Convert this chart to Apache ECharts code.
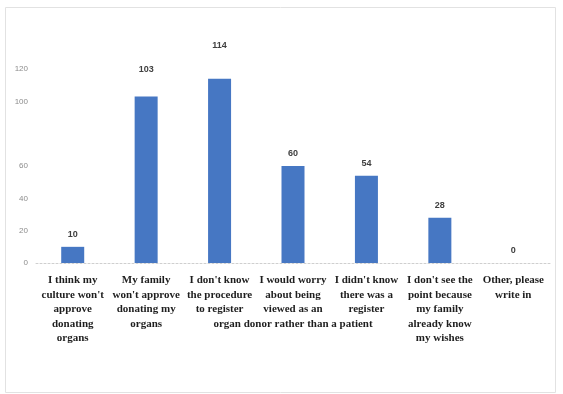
<!DOCTYPE html>
<html>
<head>
<meta charset="utf-8">
<script src="https://cdn.jsdelivr.net/npm/echarts@6/dist/echarts.min.js"></script>
<style>
  html, body { margin: 0; padding: 0; background: #fff; }
  #chart { width: 563px; height: 394px; }
</style>
</head>
<body>
<div id="chart"></div>
<script>
// Reasons given for not registering as an organ donor
const categories = [
  "I think my\nculture won't\napprove\ndonating\norgans",
  "My family\nwon't approve\ndonating my\norgans",
  "I don't know\nthe procedure\nto register",
  "I would worry\nabout being\nviewed as an\norgan donor rather than a patient",
  "I didn't know\nthere was a\nregister",
  "I don't see the\npoint because\nmy family\nalready know\nmy wishes",
  "Other, please\nwrite in"
];
const responses = [10, 103, 114, 60, 54, 28, 0];
const yTicks = [0, 20, 40, 60, 100, 120];

// extra lift for the two tallest value labels
const labelLift = [8, 22, 29, 8, 8, 8, 8];

const chart = echarts.init(document.getElementById('chart'), null, { renderer: 'canvas' });

chart.setOption({
  animation: false,
  backgroundColor: '#ffffff',
  graphic: [{
    type: 'rect',
    shape: { x: 5.5, y: 7.5, width: 550, height: 385 },
    style: { fill: 'none', stroke: '#e2e2e2', lineWidth: 1 },
    silent: true
  }],
  grid: { left: 36, right: 13, top: 69, bottom: 131 },
  xAxis: {
    type: 'category',
    data: categories,
    axisTick: { show: false },
    axisLine: { show: true, lineStyle: { color: '#cfcfcf', type: [2, 2], width: 1 } },
    axisLabel: {
      interval: 0,
      margin: 10,
      fontFamily: 'Liberation Serif',
      fontWeight: 'bold',
      fontSize: 11,
      lineHeight: 14.5,
      color: '#1e1e1e',
      align: 'center'
    }
  },
  yAxis: {
    type: 'value',
    min: 0,
    max: 120,
    interval: 20,
    splitLine: { show: false },
    axisLine: { show: false },
    axisTick: { show: false },
    axisLabel: {
      margin: 8,
      fontFamily: 'Liberation Sans',
      fontSize: 8,
      color: '#8c8c8c',
      formatter: v => (yTicks.indexOf(v) >= 0 ? String(v) : '')
    }
  },
  series: [{
    type: 'bar',
    barWidth: 23,
    itemStyle: { color: '#4677c3' },
    data: responses.map((v, i) => ({
      value: v,
      label: { distance: labelLift[i] }
    })),
    label: {
      show: true,
      position: 'top',
      fontFamily: 'Liberation Sans',
      fontWeight: 'bold',
      fontSize: 9,
      color: '#404040'
    }
  }]
});
</script>
</body>
</html>
